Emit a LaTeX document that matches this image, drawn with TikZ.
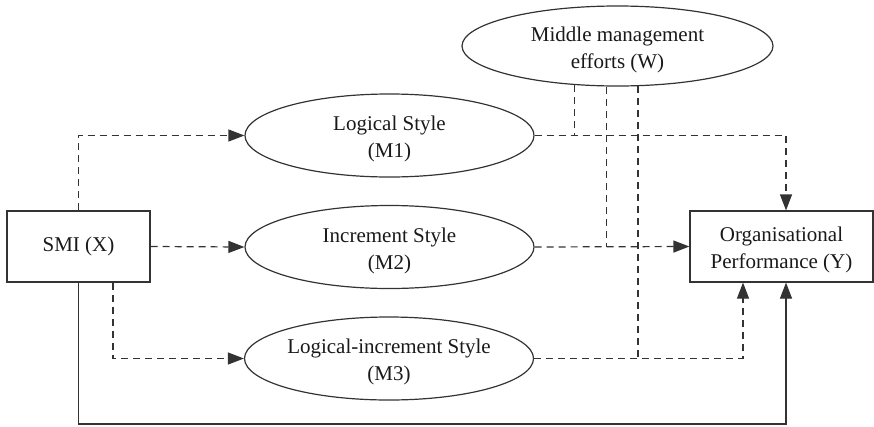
\documentclass[tikz,border=0pt]{standalone}
\usepackage{fontspec}
\setmainfont{Liberation Serif}
\usetikzlibrary{arrows.meta,calc,shapes.geometric}
\begin{document}
\begin{tikzpicture}[x=1pt,y=-1pt,
  every node/.style={font=\fontsize{21}{27}\selectfont, text=black!90, align=center},
  box/.style={draw=black!80, line width=1.2pt, rectangle, inner sep=0pt},
  oval/.style={draw=black!80, line width=1.2pt, ellipse, inner sep=0pt},
  lbl/.style={inner sep=0pt, yshift=-3.5pt},
  conn/.style={draw=black!80, line width=1.2pt},
  dconn/.style={conn, dash pattern=on 7pt off 5pt},
  tip/.style={-{Triangle[length=16pt,width=12pt]}}
]
\useasboundingbox (0,0) rectangle (874,426);
\node[box, minimum width=143pt, minimum height=71pt] (SMI) at (78.5,246.5) {SMI (X)};
\node[box, minimum width=183pt, minimum height=71pt] (Y) at (781.5,246.5) {};
\node[lbl] (Yt) at (Y) {Organisational\\Performance (Y)};
\node[oval, minimum width=289pt, minimum height=83pt] (M1) at (389.5,135.5) {};
\node[lbl] (M1t) at (M1) {Logical Style\\(M1)};
\node[oval, minimum width=289pt, minimum height=83pt] (M2) at (389.5,247) {};
\node[lbl] (M2t) at (M2) {Increment Style\\(M2)};
\node[oval, minimum width=289pt, minimum height=83pt] (M3) at (389,358.5) {};
\node[lbl] (M3t) at (M3) {Logical-increment Style\\(M3)};
\node[oval, minimum width=311pt, minimum height=80pt] (W) at (617.5,46) {};
\node[lbl] (Wt) at (W) {Middle management\\efforts (W)};
\coordinate (bot) at (0,424);
% X -> mediators
\draw[dconn, tip] (SMI.north) |- (M1.west);
\draw[dconn, tip] (SMI.east) -- (M2.west);
\draw[dconn, tip] ($(SMI.south)+(34.5,0)$) |- (M3.west);
% direct
\draw[conn, tip] (SMI.south) -- (SMI.south |- bot) -| ($(Y.south)+(4.5,0)$);
% mediators -> Y
\draw[dconn, tip] (M1.east) -| ($(Y.north)+(4.5,0)$);
\draw[dconn, tip] (M2.east) -- (Y.west);
\draw[dconn, tip] (M3.east) -| ($(Y.south)+(-38.5,0)$);
% moderator lines
\draw[dconn] (W.222.2) -- (W.222.2 |- M1.east);
\draw[dconn] (W.255.3) -- (W.255.3 |- M2.east);
\draw[dconn] (W.297.3) -- (W.297.3 |- M3.east);
\end{tikzpicture}
\end{document}
